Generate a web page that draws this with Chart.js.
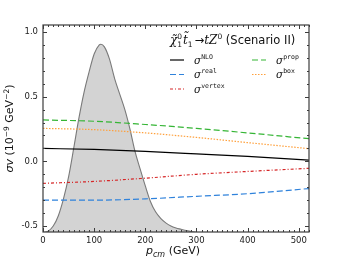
<!DOCTYPE html>
<html>
<head>
<meta charset="utf-8">
<script src="https://cdn.jsdelivr.net/npm/chart.js@4/dist/chart.umd.min.js"></script>
<style>
  html, body { margin: 0; padding: 0; background: #fff; }
  #wrap { width: 344px; height: 258px; }
</style>
</head>
<body>
<div id="wrap"><canvas id="chart" width="344" height="258"></canvas></div>
<script>
// p_cm grid for the cross-section curves (GeV)
const pcm = [0, 100, 200, 300, 400, 520];
const sigmaNLO    = [0.100, 0.092, 0.077, 0.058, 0.038, 0.010];
const sigmaProp   = [0.320, 0.310, 0.285, 0.255, 0.220, 0.175];
const sigmaBox    = [0.255, 0.245, 0.220, 0.185, 0.145, 0.098];
const sigmaVertex = [-0.170, -0.155, -0.130, -0.100, -0.078, -0.054];
const sigmaReal   = [-0.300, -0.300, -0.290, -0.270, -0.250, -0.210];

// thermal distribution (grey area), arbitrary units on the same axis
const distX = [0, 10, 20, 30, 40, 50, 60, 70, 80, 90, 100, 110, 113, 120, 130, 140, 150, 160, 170, 180,
               190, 200, 210, 220, 230, 240, 250, 260, 270, 280, 290, 300, 310];
const distY = [-0.55, -0.54, -0.50, -0.42, -0.29, -0.12, 0.10, 0.33, 0.53, 0.69, 0.83, 0.90, 0.905, 0.885,
               0.79, 0.64, 0.52, 0.40, 0.25, 0.075, -0.06, -0.19, -0.31, -0.39, -0.44, -0.475, -0.50,
               -0.515, -0.525, -0.535, -0.542, -0.548, -0.55];

const xTicks = [0, 100, 200, 300, 400, 500];
const yTicks = [-0.5, 0.0, 0.5, 1.0];

const X_MIN = 0, X_MAX = 520, Y_MIN = -0.546, Y_MAX = 1.054;

function pts(xs, ys) {
    return xs.map((x, i) => ({ x: x, y: ys[i] }));
}

function lineSet(label, ys, color, dash) {
    return {
        label: label,
        data: pts(pcm, ys),
        borderColor: color,
        borderWidth: 1.2,
        borderDash: dash,
        pointRadius: 0,
        fill: false,
        cubicInterpolationMode: "monotone",
        order: 0
    };
}

/***********************************************
 * text helpers (math-ish runs on the canvas)
 ***********************************************/
function drawRuns(ctx, x, y, parts, measureOnly) {
    let cx = x;
    for (const p of parts) {
        ctx.font = p.f;
        if (p.stack) {
            // superscript over subscript at the same x
            if (!measureOnly) {
                ctx.fillText(p.stack[0], cx, y - 5);
                ctx.fillText(p.stack[1], cx, y + 3);
            }
            cx += Math.max(ctx.measureText(p.stack[0]).width, ctx.measureText(p.stack[1]).width) + (p.sp || 0);
            continue;
        }
        if (!measureOnly) ctx.fillText(p.t, cx, y + (p.dy || 0));
        cx += ctx.measureText(p.t).width + (p.sp || 0);
    }
    return cx - x;
}

const SERIF_I = '"DejaVu Serif"';
const SANS = '"DejaVu Sans"';
const MONO = '"DejaVu Sans Mono"';

const decorPlugin = {
    id: "decor",
    afterDatasetsDraw(chart) {
        const ctx = chart.ctx;
        const a = chart.chartArea;
        const xs = chart.scales.x, ys = chart.scales.y;
        ctx.save();

        // frame
        ctx.strokeStyle = "#3c3c3c";
        ctx.lineWidth = 1.2;
        ctx.strokeRect(a.left, a.top, a.right - a.left, a.bottom - a.top);

        // inward ticks on all four sides
        ctx.lineWidth = 1;
        ctx.beginPath();
        for (let v = X_MIN; v <= X_MAX; v += 10) {
            const px = Math.round(xs.getPixelForValue(v)) + 0.5;
            const len = v % 100 === 0 ? 4 : 2;
            ctx.moveTo(px, a.bottom); ctx.lineTo(px, a.bottom - len);
            ctx.moveTo(px, a.top); ctx.lineTo(px, a.top + len);
        }
        for (let k = -5; k <= 10; k++) {
            const v = k / 10;
            const py = Math.round(ys.getPixelForValue(v)) + 0.5;
            const len = k % 5 === 0 ? 4 : 2;
            ctx.moveTo(a.left, py); ctx.lineTo(a.left + len, py);
            ctx.moveTo(a.right, py); ctx.lineTo(a.right - len, py);
        }
        ctx.stroke();

        // title inside the plot
        ctx.fillStyle = "#111";
        ctx.textBaseline = "alphabetic";
        ctx.textAlign = "left";
        drawRuns(ctx, 170, 44, [
            { t: "χ\u0303", f: "italic 12px " + SERIF_I },
            { stack: ["0", "1"], f: "7.5px " + SANS, sp: 1 },
            { t: "t\u0303", f: "italic 12px " + SERIF_I },
            { t: "1", f: "7.5px " + SANS, dy: 3, sp: 2 },
            { t: "→", f: "11.5px " + SANS },
            { t: "tZ", f: "italic 12px " + SERIF_I },
            { t: "0", f: "7.5px " + SANS, dy: -5 },
            { t: " (Scenario II)", f: "11.5px " + SANS }
        ]);

        // legend
        const rows = [
            { x: 170, y: 60, color: "#000000", dash: [], sup: "NLO" },
            { x: 252, y: 60, color: "#35b535", dash: [6, 3], sup: "prop" },
            { x: 170, y: 74.5, color: "#2f82db", dash: [6, 3], sup: "real" },
            { x: 252, y: 74.5, color: "#ffa03c", dash: [1.5, 1.5], sup: "box" },
            { x: 170, y: 89, color: "#d62728", dash: [3, 2, 1, 2], sup: "vertex" }
        ];
        for (const r of rows) {
            ctx.strokeStyle = r.color;
            ctx.lineWidth = 1.2;
            ctx.setLineDash(r.dash);
            ctx.beginPath();
            ctx.moveTo(r.x, r.y); ctx.lineTo(r.x + 14, r.y);
            ctx.stroke();
            ctx.setLineDash([]);
            drawRuns(ctx, r.x + 24, r.y + 3.5, [
                { t: "σ", f: "italic 10.5px " + SERIF_I },
                { t: r.sup, f: "6.5px " + MONO, dy: -5 }
            ]);
        }

        // x axis title
        const xParts = [
            { t: "p", f: "italic 11px " + SANS },
            { t: "cm", f: "italic 8px " + SANS, dy: 2.5 },
            { t: " (GeV)", f: "11px " + SANS }
        ];
        const xw = drawRuns(ctx, 0, 0, xParts, true);
        drawRuns(ctx, (a.left + a.right) / 2 - xw / 2 - 3, 254, xParts);

        // y axis title (rotated)
        const yParts = [
            { t: "σv", f: "italic 11px " + SANS },
            { t: " (10", f: "11px " + SANS },
            { t: "−9", f: "7.5px " + SANS, dy: -4.5 },
            { t: " GeV", f: "11px " + SANS },
            { t: "−2", f: "7.5px " + SANS, dy: -4.5 },
            { t: ")", f: "11px " + SANS }
        ];
        const yw = drawRuns(ctx, 0, 0, yParts, true);
        ctx.translate(13, (a.top + a.bottom) / 2);
        ctx.rotate(-Math.PI / 2);
        drawRuns(ctx, -yw / 2, 0, yParts);

        ctx.restore();
    }
};

new Chart(document.getElementById("chart"), {
    type: "line",
    data: {
        datasets: [
            lineSet("NLO", sigmaNLO, "#000000", []),
            lineSet("prop", sigmaProp, "#35b535", [6, 3]),
            lineSet("real", sigmaReal, "#2f82db", [6, 3]),
            lineSet("box", sigmaBox, "#ffa03c", [1.5, 1.5]),
            lineSet("vertex", sigmaVertex, "#d62728", [3, 2, 1, 2]),
            {
                label: "distribution",
                data: pts(distX, distY),
                borderColor: "#7a7a7a",
                borderWidth: 1.1,
                backgroundColor: "#d3d3d3",
                pointRadius: 0,
                fill: "start",
                cubicInterpolationMode: "monotone",
                order: 10
            }
        ]
    },
    plugins: [decorPlugin],
    options: {
        responsive: false,
        animation: false,
        devicePixelRatio: 1,
        layout: { padding: { top: 25, right: 35, left: 0, bottom: 0 } },
        plugins: {
            legend: { display: false },
            tooltip: { enabled: false }
        },
        scales: {
            x: {
                type: "linear",
                min: X_MIN,
                max: X_MAX,
                afterBuildTicks: (s) => { s.ticks = xTicks.map(v => ({ value: v })); },
                afterFit: (s) => { s.height = 26; },
                grid: { display: false, drawTicks: false },
                border: { display: false },
                ticks: {
                    padding: 4,
                    maxRotation: 0,
                    color: "#222",
                    font: { family: "DejaVu Sans", size: 8.5 }
                }
            },
            y: {
                type: "linear",
                min: Y_MIN,
                max: Y_MAX,
                afterBuildTicks: (s) => { s.ticks = yTicks.map(v => ({ value: v })); },
                afterFit: (s) => { s.width = 43; },
                grid: { display: false, drawTicks: false },
                border: { display: false },
                ticks: {
                    padding: 5,
                    color: "#222",
                    font: { family: "DejaVu Sans", size: 8.5 },
                    callback: (v) => v.toFixed(1)
                }
            }
        }
    }
});
</script>
</body>
</html>
